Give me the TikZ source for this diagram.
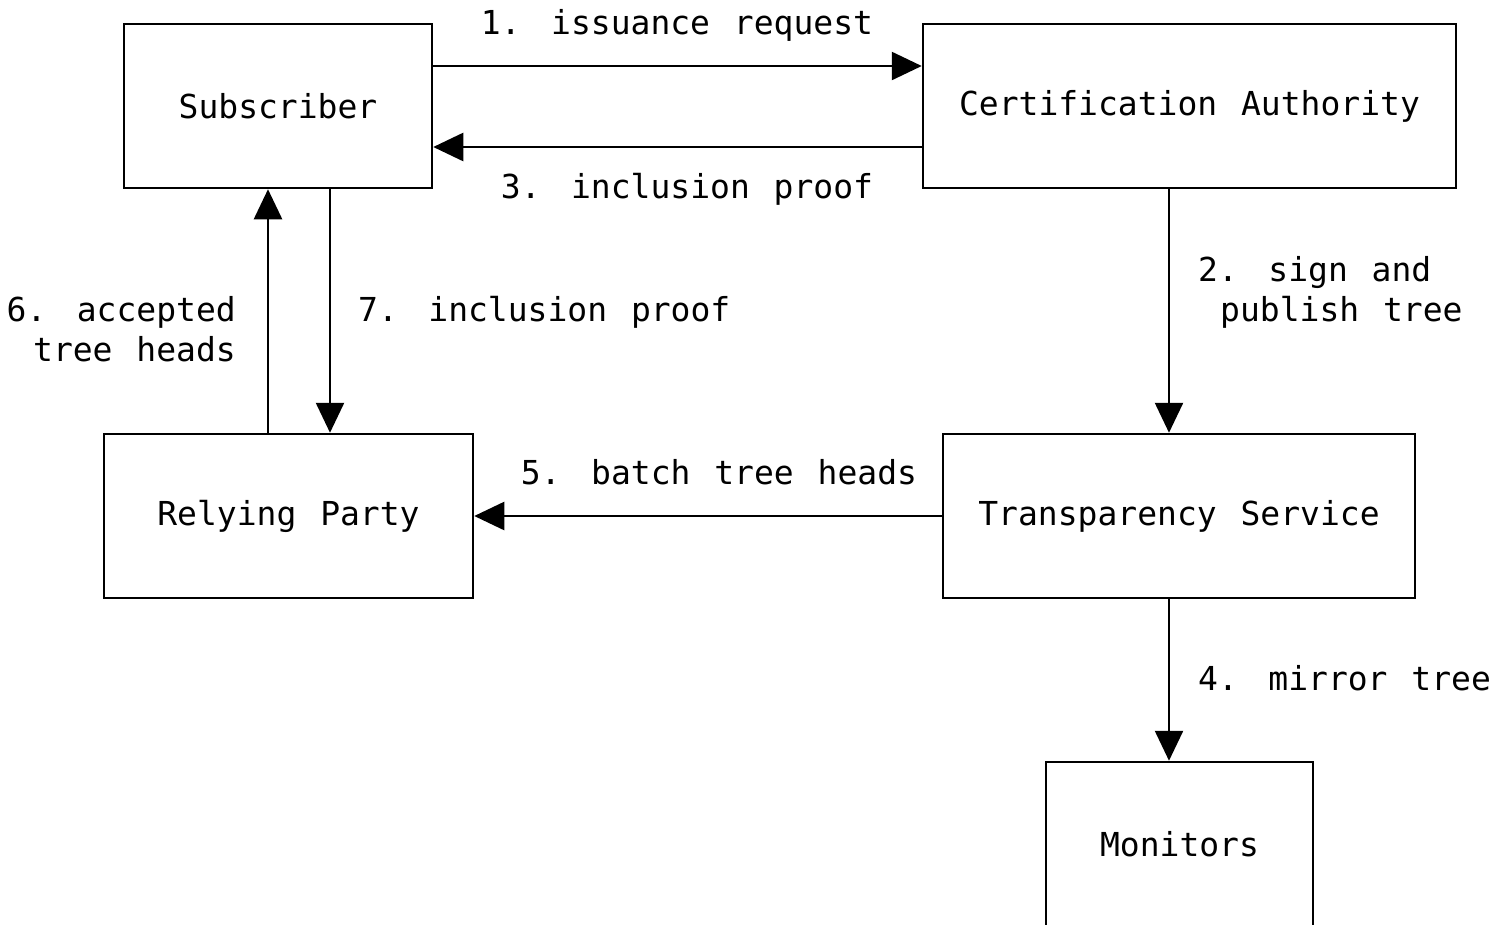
\documentclass[tikz,border=0pt]{standalone}
\usepackage{fontspec}
\setmainfont[WordSpace=1.2]{DejaVu Sans Mono}
\usetikzlibrary{arrows.meta}
\begin{document}
\begin{tikzpicture}[x=1pt,y=-1pt,
  every node/.style={font=\fontsize{33}{41}\selectfont, inner sep=0pt},
  box/.style={draw, line width=2.5pt, rectangle},
  flow/.style={line width=2.5pt, -{Triangle[length=30pt,width=28pt]}},
  lbl/.style={}]
\useasboundingbox (0,0) rectangle (1490,924);
% boxes
\node[box, minimum width=308pt, minimum height=164pt] (sub) at (278,106) {Subscriber};
\node[box, minimum width=533pt, minimum height=164pt] (ca) at (1189.5,106) {Certification Authority};
\node[box, minimum width=369pt, minimum height=164pt] (rp) at (288.5,516) {Relying Party};
\node[box, minimum width=472pt, minimum height=164pt] (ts) at (1179,516) {Transparency Service};
\node[box, minimum width=267pt, minimum height=164pt] (mon) at (1179.5,844) {Monitors};
% connectors
\draw[flow] ([yshift=40pt]sub.east) -- ([yshift=40pt]sub.east -| ca.west);
\draw[flow] ([yshift=-41pt]ca.west) -- ([yshift=-41pt]ca.west -| sub.east);
\draw[flow] ([xshift=-20.5pt]ca.south) -- ([xshift=-20.5pt]ca.south |- ts.north);
\draw[flow] ([xshift=-10pt]ts.south) -- ([xshift=-10pt]ts.south |- mon.north);
\draw[flow] (ts.west) -- (rp.east);
\draw[flow] ([xshift=-20.5pt]rp.north) -- ([xshift=-20.5pt]rp.north |- sub.south);
\draw[flow] ([xshift=52pt]sub.south) -- ([xshift=52pt]sub.south |- rp.north);
% labels
\node[lbl, anchor=base] (l1) at (677,34) {1. issuance request};
\node[lbl, anchor=base] (l3) at (687,198) {3. inclusion proof};
\node[lbl, anchor=base west] (l2a) at (1198,281) {2. sign and};
\node[lbl, anchor=base west] (l2b) at (1220,321) {publish tree};
\node[lbl, anchor=base west] (l4) at (1198,690) {4. mirror tree};
\node[lbl, anchor=base] (l5) at (719,484) {5. batch tree heads};
\node[lbl, anchor=base east] (l6a) at (236,321) {6. accepted};
\node[lbl, anchor=base east] (l6b) at (236,361) {tree heads};
\node[lbl, anchor=base west] (l7) at (358,321) {7. inclusion proof};
\end{tikzpicture}
\end{document}
